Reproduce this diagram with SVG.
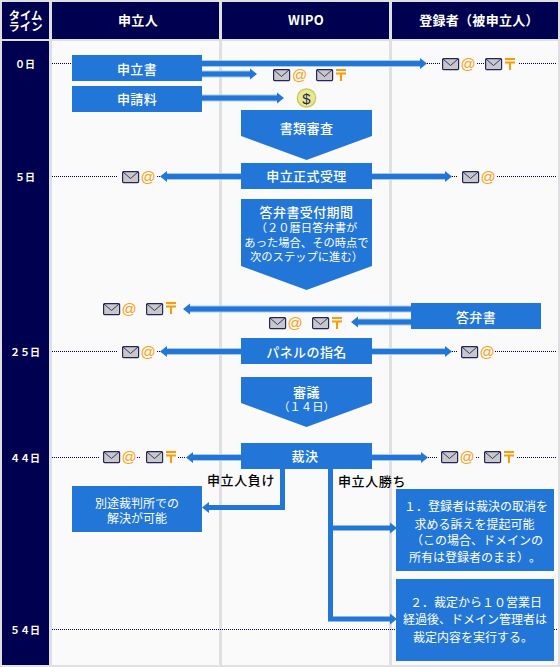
<svg xmlns="http://www.w3.org/2000/svg" width="560" height="667" viewBox="0 0 560 667">
<style>
text{font-family:"Noto Sans CJK JP","Noto Sans",sans-serif;text-anchor:middle;dominant-baseline:central;text-spacing-trim:space-all}
tspan{dominant-baseline:central}
.h{fill:#fff;font-size:13px;font-weight:700;letter-spacing:.3px}
.t{fill:#fff;font-size:10px;font-weight:700}
.b{fill:#fff;font-size:13px;font-weight:500;letter-spacing:.4px}
.s{fill:#fff;font-size:11.3px}
.m{fill:#fff;font-size:12px}
.k{fill:#000;font-size:13px;font-weight:500;letter-spacing:.6px}
.n{fill:#2276d8}
.dot{fill:none;stroke:#000050;stroke-width:1;stroke-dasharray:1 1}
.sh{fill:none;stroke:#a9c9ef;stroke-width:7}
.ln{fill:none;stroke:#2276d8;stroke-width:5}
.hd{fill:#2276d8}
.at{fill:#ff9e0f;font-family:"Liberation Sans",sans-serif;font-size:15px}
.env{fill:#c8c8c8;stroke:#23235f;stroke-width:1.2}
.fl{fill:none;stroke:#23235f;stroke-width:.9}
.post{fill:none;stroke:#ff9a00;stroke-width:2}
</style>
<defs>
<g id="e"><rect class="env" x=".6" y=".6" width="16" height="11" rx="1"/><path class="fl" d="M1 1L8.5 7.5L16 1"/></g>
<g id="p"><path class="post" d="M0 1H10M0 4.5H10M5 4.5V12"/></g>
</defs>
<rect width="560" height="667" fill="#e0e0e0"/>
<g id="columns">
<rect x="2" y="2" width="47" height="37" fill="#000050"/>
<rect x="52" y="2" width="167" height="37" fill="#000050"/>
<rect x="222" y="2" width="167" height="37" fill="#000050"/>
<rect x="392" y="2" width="166" height="37" fill="#000050"/>
<rect x="2" y="41" width="47" height="624" fill="#000050"/>
<rect x="52" y="41" width="167" height="624" fill="#fafafa"/>
<rect x="222" y="41" width="167" height="624" fill="#fafafa"/>
<rect x="392" y="41" width="166" height="624" fill="#fafafa"/>
<text class="s" style="font-weight:700"><tspan x="25.5" y="14.5">タイム</tspan><tspan x="25.5" y="25.500">ライン</tspan></text>
<text class="h" x="138" y="19.500">申立人</text>
<text class="h" x="306" y="19.500">WIPO</text>
<text class="h" x="479" y="19.500">登録者（被申立人）</text>
<text class="t" x="25" y="63">０日</text>
<text class="t" x="25" y="176">５日</text>
<text class="t" x="25" y="351">２５日</text>
<text class="t" x="25" y="457">４４日</text>
<text class="t" x="25" y="629">５４日</text>
</g>
<g id="timelines">
<path class="dot" d="M52 63.500H72M427 63.500H441M477 63.500H484M519 63.500H556"/>
<path class="dot" d="M52 176.500H118M157 176.500H160M452 176.500H458M497 176.500H556"/>
<path class="dot" d="M52 351.500H118M157 351.500H160M452 351.500H458M495 351.500H556"/>
<path class="dot" d="M52 457.500H100M137 457.500H141M178 457.500H186M428 457.500H438M476 457.500H480M517 457.500H556"/>
<path class="dot" d="M52 629.500H396M554 629.500H557"/>
</g>
<g id="connectors">
<path class="sh" d="M202 63.500H420M202 74H250M202 98H277M241 176.500H167M372 176.500H445M411 309H190M411 322H358M241 351.500H167M372 351.500H445M241 457.500H193M372 457.500H421"/>
<path class="ln" d="M202 63.500H420M202 74H250M202 98H277M241 176.500H167M372 176.500H445M411 309H190M411 322H358M241 351.500H167M372 351.500H445M241 457.500H193M372 457.500H421M282.500 469V507.500H209M330.500 469V619H390M330.500 528H390"/>
<path class="hd" d="M427 63.500L420 58V69ZM257 74L250 68.500V79.500ZM284 98L277 92.500V103.500ZM160 176.500L167 171V182ZM452 176.500L445 171V182ZM183 309L190 303.500V314.500ZM351 322L358 316.500V327.500ZM160 351.500L167 346V357ZM452 351.500L445 346V357ZM186 457.500L193 452V463ZM428 457.500L421 452V463ZM202 507.500L209 502V513ZM397 528L390 522.500V533.500ZM397 619L390 613.500V624.500Z"/>
</g>
<g id="icons">
<use href="#e" x="442" y="58"/><text class="at" x="468" y="63.500">@</text>
<use href="#e" x="485" y="58"/><use href="#p" x="505" y="58"/>
<use href="#e" x="273" y="69"/><text class="at" x="299.500" y="74.500">@</text>
<use href="#e" x="316" y="69"/><use href="#p" x="336" y="69"/>
<use href="#e" x="122" y="171"/><text class="at" x="148" y="176.500">@</text>
<use href="#e" x="462" y="171"/><text class="at" x="488" y="176.500">@</text>
<use href="#e" x="103" y="303"/><text class="at" x="129" y="308.500">@</text>
<use href="#e" x="146" y="303"/><use href="#p" x="166" y="302"/>
<use href="#e" x="269" y="317"/><text class="at" x="295" y="322.500">@</text>
<use href="#e" x="312" y="317"/><use href="#p" x="332" y="317"/>
<use href="#e" x="122" y="346"/><text class="at" x="148" y="351.500">@</text>
<use href="#e" x="461" y="346"/><text class="at" x="487" y="351.500">@</text>
<use href="#e" x="103" y="451"/><text class="at" x="129" y="456.500">@</text>
<use href="#e" x="146" y="451"/><use href="#p" x="166" y="451"/>
<use href="#e" x="441" y="451"/><text class="at" x="467" y="456.500">@</text>
<use href="#e" x="484" y="451"/><use href="#p" x="504" y="451"/>
<g id="dollar"><circle cx="306.500" cy="98" r="9.200" fill="#e8e88c" stroke="#c6c65a" stroke-width="1.200"/><text x="306.500" y="98" font-size="15" fill="#23235f" style="font-family:'Liberation Sans',sans-serif">$</text></g>
</g>
<g id="n-mousho"><rect class="n" x="72" y="55" width="130" height="26"/><text class="b" x="137" y="68">申立書</text></g>
<g id="n-fee"><rect class="n" x="72" y="86" width="130" height="26"/><text class="b" x="137" y="98">申請料</text></g>
<g id="n-review"><path class="n" d="M241 110H372V136L306.500 160L241 136Z"/><text class="b" x="306.500" y="127">書類審査</text></g>
<g id="n-accept"><rect class="n" x="241" y="163" width="131" height="26"/><text class="b" x="306.500" y="175.500">申立正式受理</text></g>
<g id="n-period"><path class="n" d="M241 199H372V266L306.500 290L241 266Z"/><text class="s"><tspan class="b" x="306.500" y="211">答弁書受付期間</tspan><tspan x="306.500" y="227">（２０暦日答弁書が</tspan><tspan x="306.500" y="241.500">あった場合、その時点で</tspan><tspan x="306.500" y="255.500">次のステップに進む）</tspan></text></g>
<g id="n-answer"><rect class="n" x="411" y="303" width="130" height="26"/><text class="b" x="476" y="316">答弁書</text></g>
<g id="n-panel"><rect class="n" x="241" y="338" width="131" height="26"/><text class="b" x="306.500" y="351">パネルの指名</text></g>
<g id="n-delib"><path class="n" d="M241 377H372V403L306.500 427L241 403Z"/><text class="s"><tspan class="b" x="306.500" y="391">審議</tspan><tspan x="306.500" y="406">（１４日）</tspan></text></g>
<g id="n-decision"><rect class="n" x="241" y="443" width="131" height="26"/><text class="b" x="305" y="455">裁決</text></g>
<g id="n-court"><rect class="n" x="72" y="486" width="130" height="46"/><text class="m"><tspan x="137" y="502">別途裁判所での</tspan><tspan x="137" y="517">解決が可能</tspan></text></g>
<g id="n-win1"><rect class="n" x="396" y="489" width="158" height="82"/><text class="m" x="476" y="505.500">１．登録者は裁決の取消を</text><text class="m" x="474.500" y="523">求める訴えを提起可能</text><text class="m" x="477" y="539">（この場合、ドメインの</text><text class="m" x="475" y="556">所有は登録者のまま）。</text></g>
<g id="n-win2"><rect class="n" x="396" y="579" width="158" height="82"/><text class="m" x="476" y="601">２．裁定から１０営業日</text><text class="m" x="475" y="618.500">経過後、ドメイン管理者は</text><text class="m" x="473" y="636">裁定内容を実行する。</text></g>
<g id="labels"><text class="k" x="241" y="479">申立人負け</text><text class="k" x="372" y="480">申立人勝ち</text></g>
</svg>
